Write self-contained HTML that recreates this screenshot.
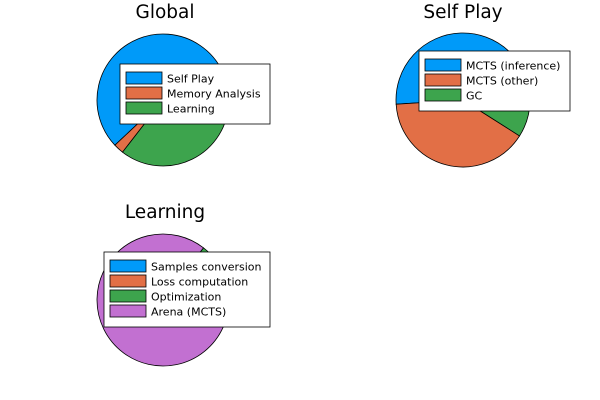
<!DOCTYPE html>
<html><head><meta charset="utf-8"><style>
html,body{margin:0;padding:0;background:#fff}
svg{display:block;font-family:"DejaVu Sans","Liberation Sans",sans-serif}
</style></head><body>
<svg id="chart" width="600" height="400" viewBox="0 0 600 400"></svg>
<script>
const colors = ["#009af9","#e26f46","#3da44d","#c270d1"];
const globalLabels = ["Self Play","Memory Analysis","Learning"];
const globalValues = [0.62, 0.025, 0.355];
const selfPlayLabels = ["MCTS (inference)","MCTS (other)","GC"];
const selfPlayValues = [0.51, 0.40, 0.09];
const learningLabels = ["Samples conversion","Loss computation","Optimization","Arena (MCTS)"];
const learningValues = [0.01, 0.02, 0.115, 0.855];

const NS = "http://www.w3.org/2000/svg";
const svg = document.getElementById("chart");
function mk(tag, attrs, parent){
  const e = document.createElementNS(NS, tag);
  for (const k in attrs) e.setAttribute(k, attrs[k]);
  (parent||svg).appendChild(e);
  return e;
}
const panels = [
  {key:"global", title:"Global", tx:165, cx:163, cy:100, r:66, labels:globalLabels, values:globalValues, lx:120, ly:64, lw:150},
  {key:"self-play", title:"Self Play", tx:463, cx:463, cy:100, r:67, labels:selfPlayLabels, values:selfPlayValues, lx:419, ly:51, lw:151},
  {key:"learning", title:"Learning", tx:165, cx:163, cy:300, r:66, labels:learningLabels, values:learningValues, lx:104, ly:252, lw:166}
];
panels.forEach(p => {
  const g = mk("g", {});
  
  
  const t = mk("text", {x:p.tx, y:p.title==="Learning"?218:18, "text-anchor":"middle", "font-size":"18.5", fill:"#000"}, g);
  t.textContent = p.title;
  
  
  const total = p.values.reduce((a,b)=>a+b,0);
  let a0 = 0;
  p.values.forEach((v,i) => {
    const a1 = a0 + v/total*2*Math.PI;
    const x0 = p.cx + p.r*Math.cos(a0), y0 = p.cy - p.r*Math.sin(a0);
    const x1 = p.cx + p.r*Math.cos(a1), y1 = p.cy - p.r*Math.sin(a1);
    const large = (a1-a0) > Math.PI ? 1 : 0;
    const path = mk("path", {d:`M${p.cx},${p.cy} L${x0},${y0} A${p.r},${p.r} 0 ${large} 0 ${x1},${y1} Z`, fill:colors[i], stroke:"#000", "stroke-width":"0.8"}, g);
    
    
    a0 = a1;
  });
  const lh = 15, n = p.labels.length;
  const lg = mk("g", {}, g);
  
  
  mk("rect", {x:p.lx, y:p.ly, width:p.lw, height:n*lh+15, fill:"#fff", stroke:"#000", "stroke-width":"0.8"}, lg);
  p.labels.forEach((lab,i) => {
    const yy = p.ly + 8 + i*lh;
    const sw = mk("rect", {x:p.lx+6, y:yy, width:36, height:12, fill:colors[i], stroke:"#000", "stroke-width":"0.8"}, lg);
    
    
    const tx = mk("text", {x:p.lx+47, y:yy+10.5, "font-size":"11", fill:"#000"}, lg);
    tx.textContent = lab;
    
    
  });
});
</script>
</body></html>
